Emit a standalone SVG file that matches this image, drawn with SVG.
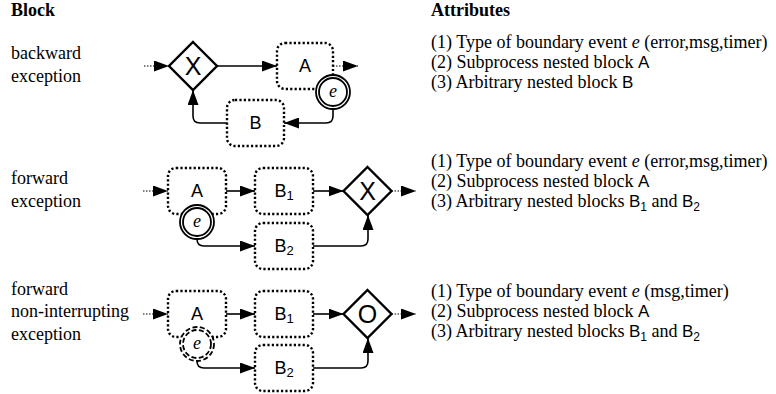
<svg xmlns="http://www.w3.org/2000/svg" width="776" height="394" viewBox="0 0 776 394">
<style>
.t{font-family:"Liberation Serif","Times New Roman",serif;font-size:18px;fill:#000}
.h{font-weight:bold}
.s{font-family:"Liberation Sans",Arial,sans-serif}
.box{fill:#fff;stroke:#000;stroke-width:2.4;stroke-dasharray:2.2 2.2}
.gw{fill:#fff;stroke:#000;stroke-width:2.4}
.lbl{font-family:"Liberation Sans",Arial,sans-serif;font-size:18px;text-anchor:middle;dominant-baseline:central}
.gl{font-family:"Liberation Sans",Arial,sans-serif;font-size:25px;text-anchor:middle;dominant-baseline:central}
.ev{fill:#fff;stroke:#000;stroke-width:1.8}
.evd{fill:#fff;stroke:#000;stroke-width:1.8;stroke-dasharray:5 2.5}
.el{font-family:"Liberation Serif","Times New Roman",serif;font-style:italic;font-size:18px;text-anchor:middle;dominant-baseline:central}
.f{fill:none;stroke:#000;stroke-width:1.6;marker-end:url(#ah)}
.d{fill:none;stroke:#000;stroke-width:1;stroke-dasharray:1.5 1.5;marker-end:url(#ah)}
</style>
<defs>
<marker id="ah" markerUnits="userSpaceOnUse" markerWidth="15" markerHeight="11" refX="15" refY="5.5" orient="auto">
<path d="M0,0 L15,5.5 L0,11 z" fill="#000"/>
</marker>
</defs>

<g id="headers">
<text class="t h" x="11" y="16">Block</text>
<text class="t h" x="431" y="16">Attributes</text>
</g>

<g id="row1-text">
<text class="t" x="11" y="59">backward</text>
<text class="t" x="11" y="82">exception</text>
<text class="t" x="431" y="48">(1) Type of boundary event <tspan font-style="italic">e</tspan> (error,msg,timer)</text>
<text class="t" x="431" y="68">(2) Subprocess nested block <tspan class="s" font-size="17">A</tspan></text>
<text class="t" x="431" y="88">(3) Arbitrary nested block <tspan class="s" font-size="17">B</tspan></text>
</g>

<g id="row2-text">
<text class="t" x="11" y="184">forward</text>
<text class="t" x="11" y="207">exception</text>
<text class="t" x="431" y="167">(1) Type of boundary event <tspan font-style="italic">e</tspan> (error,msg,timer)</text>
<text class="t" x="431" y="187">(2) Subprocess nested block <tspan class="s" font-size="17">A</tspan></text>
<text class="t" x="431" y="207">(3) Arbitrary nested blocks <tspan class="s" font-size="17">B</tspan><tspan class="s" font-size="12" dy="4">1</tspan><tspan dy="-4"> and </tspan><tspan class="s" font-size="17">B</tspan><tspan class="s" font-size="12" dy="4">2</tspan></text>
</g>

<g id="row3-text">
<text class="t" x="11" y="295">forward</text>
<text class="t" x="11" y="317">non-interrupting</text>
<text class="t" x="11" y="340">exception</text>
<text class="t" x="431" y="297">(1) Type of boundary event <tspan font-style="italic">e</tspan> (msg,timer)</text>
<text class="t" x="431" y="317">(2) Subprocess nested block <tspan class="s" font-size="17">A</tspan></text>
<text class="t" x="431" y="337">(3) Arbitrary nested blocks <tspan class="s" font-size="17">B</tspan><tspan class="s" font-size="12" dy="4">1</tspan><tspan dy="-4"> and </tspan><tspan class="s" font-size="17">B</tspan><tspan class="s" font-size="12" dy="4">2</tspan></text>
</g>

<g id="connectors">
<!-- row 1 -->
<line class="d" x1="144" y1="66" x2="169" y2="66"/>
<line class="f" x1="217" y1="66" x2="277" y2="66"/>
<line class="d" x1="333" y1="66" x2="358" y2="66"/>
<path class="f" d="M333 110 L333 116 Q333 123 326 123 L284 123"/>
<path class="f" d="M227 123 L200 123 Q193 123 193 116 L193 90"/>
<!-- row 2 -->
<line class="d" x1="143" y1="191" x2="168" y2="191"/>
<line class="f" x1="226" y1="191" x2="255" y2="191"/>
<line class="f" x1="313" y1="191" x2="343.5" y2="191"/>
<line class="d" x1="391.5" y1="191" x2="416" y2="191"/>
<path class="f" d="M197 239 Q197 246 204 246 L255 246"/>
<path class="f" d="M313 246 L361 246 Q368 246 368 239 L368 215"/>
<!-- row 3 -->
<line class="d" x1="143" y1="314" x2="168" y2="314"/>
<line class="f" x1="226" y1="314" x2="255" y2="314"/>
<line class="f" x1="313" y1="314" x2="343.5" y2="314"/>
<line class="d" x1="391.5" y1="314" x2="416" y2="314"/>
<path class="f" d="M197 361 Q197 368 204 368 L255 368"/>
<path class="f" d="M313 368 L361 368 Q368 368 368 361 L368 338"/>
</g>

<!-- row 1 nodes -->
<g id="r1-gw"><polygon class="gw" points="193,42 217,66 193,90 169,66"/><text class="gl" x="193" y="66">X</text></g>
<g id="r1-A"><rect class="box" x="277" y="43" width="56" height="46" rx="8"/><text class="lbl" x="305" y="66">A</text></g>
<g id="r1-B"><rect class="box" x="227" y="100" width="57" height="46" rx="8"/><text class="lbl" x="255.5" y="123">B</text></g>
<g id="r1-e"><circle class="ev" cx="333" cy="92" r="17"/><circle class="ev" cx="333" cy="92" r="14"/><text class="el" x="333" y="91">e</text></g>

<!-- row 2 nodes -->
<g id="r2-A"><rect class="box" x="168" y="168" width="58" height="46" rx="8"/><text class="lbl" x="197" y="191">A</text></g>
<g id="r2-B1"><rect class="box" x="255" y="168" width="58" height="46" rx="8"/><text class="lbl" x="284" y="191">B<tspan font-size="13" dy="4">1</tspan></text></g>
<g id="r2-B2"><rect class="box" x="255" y="223" width="58" height="46" rx="8"/><text class="lbl" x="284" y="246">B<tspan font-size="13" dy="4">2</tspan></text></g>
<g id="r2-gw"><polygon class="gw" points="367.5,167 391.5,191 367.5,215 343.5,191"/><text class="gl" x="367.5" y="191">X</text></g>
<g id="r2-e"><circle class="ev" cx="197" cy="222" r="17"/><circle class="ev" cx="197" cy="222" r="14"/><text class="el" x="197" y="221">e</text></g>

<!-- row 3 nodes -->
<g id="r3-A"><rect class="box" x="168" y="291" width="58" height="46" rx="8"/><text class="lbl" x="197" y="314">A</text></g>
<g id="r3-B1"><rect class="box" x="255" y="291" width="58" height="46" rx="8"/><text class="lbl" x="284" y="314">B<tspan font-size="13" dy="4">1</tspan></text></g>
<g id="r3-B2"><rect class="box" x="255" y="345" width="58" height="46" rx="8"/><text class="lbl" x="284" y="368">B<tspan font-size="13" dy="4">2</tspan></text></g>
<g id="r3-gw"><polygon class="gw" points="367.5,290 391.5,314 367.5,338 343.5,314"/><text class="gl" x="367.5" y="314">O</text></g>
<g id="r3-e"><circle class="evd" cx="197" cy="344" r="17"/><circle class="evd" cx="197" cy="344" r="14"/><text class="el" x="197" y="343">e</text></g>
</svg>
